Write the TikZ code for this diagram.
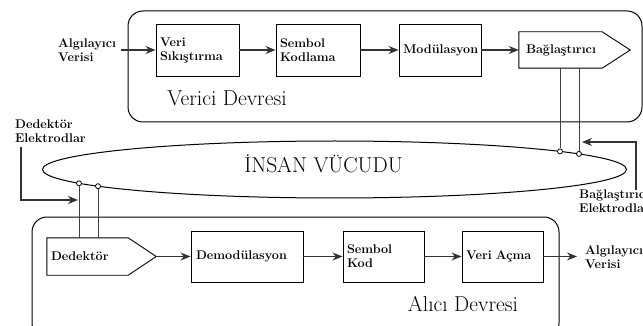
\documentclass[tikz,border=0pt]{standalone}
\usepackage{fontspec}
\usetikzlibrary{arrows.meta,shapes.geometric}
\begin{document}
\begin{tikzpicture}[x=1pt,y=-1pt,
  lbl/.style={font=\bfseries\fontsize{12.6}{14}\selectfont, align=left, inner sep=0pt},
  blk/.style={draw=black, line width=0.9pt, lbl, inner xsep=4pt, inner ysep=0pt, minimum height=52pt},
  penta/.style={lbl, inner xsep=4pt, inner ysep=0pt, minimum height=37pt},
  con/.style={draw=black!80, line width=1.1pt, -{Stealth[length=10pt,width=8pt]}},
  wire/.style={draw=black!75, line width=1pt},
  frame/.style={draw=black, line width=1pt, rounded corners=15pt},
  pin/.style={circle, draw=black, fill=white, line width=0.8pt, minimum size=5pt, inner sep=0pt},
  big/.style={font=\fontsize{21.5}{24}\selectfont, inner sep=0pt}]
\clip (0,0) rectangle (643,326);
\useasboundingbox (0,0) rectangle (643,326);

% frames
\draw[frame] (128,11) rectangle (642,122);
\draw[frame] (32,217) rectangle (559,338);
\node[big, anchor=base] (vd) at (227,106) {Verici Devresi};
\node[big, anchor=base] (ad) at (463,311) {Alıcı Devresi};

% transmitter chain
\node[lbl, anchor=west] (inlbl) at (58,50) {Algılayıcı\\Verisi};
\node[blk, text width=75pt, minimum width=83pt] (vs) at (197.5,50) {Veri\\Sıkıştırma};
\node[blk, text width=76pt, minimum width=84pt] (sk) at (318,50) {Sembol\\Kodlama};
\node[blk, text width=74pt, minimum width=82pt, align=center] (mod) at (440,50) {Modülasyon};
\node[penta, inner xsep=7pt, text width=97pt, minimum width=111pt, minimum height=36pt] (bag) at (574.5,50) {Bağlaştırıcı};
\draw[line width=0.9pt] (bag.north west) -- ([xshift=-28pt]bag.north east) -- (bag.east)
  -- ([xshift=-28pt]bag.south east) -- (bag.south west) -- cycle;
\draw[con] ([xshift=5pt]inlbl.east |- vs.west) -- (vs.west);
\draw[con] (vs) -- (sk);
\draw[con] (sk) -- (mod);
\draw[con] (mod) -- (bag);

% body
\node[draw=black, ellipse, line width=1pt, minimum width=584pt, minimum height=57pt, inner sep=0pt] (body) at (334.5,169.5) {};
\node[big, anchor=base] (bodytxt) at (323.5,173) {İNSAN VÜCUDU};

% receiver chain
\node[penta, text width=101pt, minimum width=109pt] (ded) at (101.5,256.5) {Dedektör};
\draw[line width=0.9pt] (ded.north west) -- ([xshift=-28pt]ded.north east) -- (ded.east)
  -- ([xshift=-28pt]ded.south east) -- (ded.south west) -- cycle;
\node[blk, inner xsep=5pt, text width=102pt, minimum width=112pt, minimum height=51pt] (dem) at (247,256.5) {Demodülasyon};
\node[blk, text width=73pt, minimum width=81pt, minimum height=51pt] (skd) at (383.5,256.5) {Sembol\\Kod};
\node[blk, text width=73pt, minimum width=81pt, minimum height=51pt] (va) at (502.5,256.5) {Veri Açma};
\node[lbl, anchor=west] (outlbl) at (585,257) {Algılayıcı\\Verisi};
\coordinate (outend) at (577,256.5);
\draw[con] (ded.east) -- (dem);
\draw[con] (dem) -- (skd);
\draw[con] (skd) -- (va);
\draw[con] (va) -- (outend);

% electrodes
\node[pin] (c1) at (560,151.4) {};
\node[pin] (c2) at (579,153.9) {};
\node[pin] (c3) at (79,183.3) {};
\node[pin] (c4) at (98,186.2) {};
\draw[wire] (c1.north) -- (c1.north |- bag.south);
\draw[wire] (c2.north) -- (c2.north |- bag.south);
\draw[wire] (c3.south) -- (c3.south |- ded.north);
\draw[wire] (c4.south) -- (c4.south |- ded.north);

% electrode labels
\node[lbl, anchor=north west] (dlbl) at (15,120) {Dedektör\\Elektrodlar};
\coordinate (dtip) at (78,200);
\draw[con] ([shift={(6,4)}]dlbl.south west) |- (dtip);
\node[lbl, anchor=north west] (blbl) at (579,189) {Bağlaştırıcı\\Elektrodlar};
\coordinate (btip) at (582,142);
\draw[con] ([shift={(57,1)}]blbl.north west) |- (btip);
\end{tikzpicture}
\end{document}
